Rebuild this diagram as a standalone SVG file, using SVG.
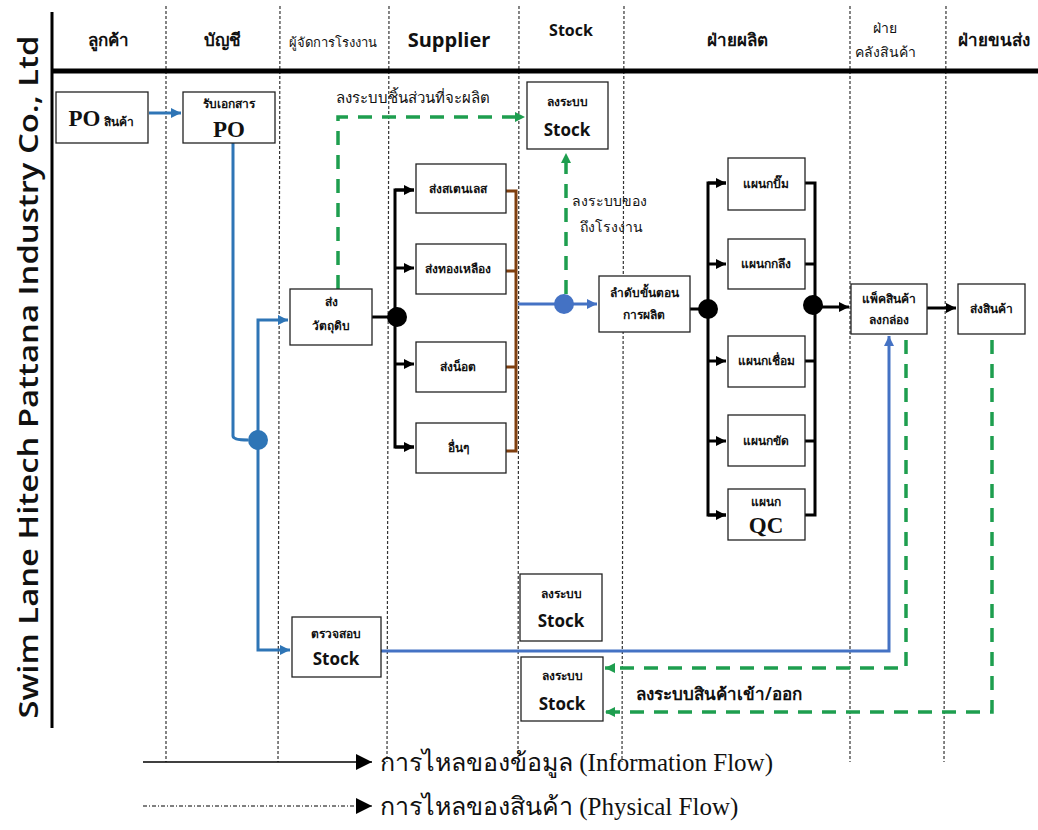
<svg xmlns="http://www.w3.org/2000/svg" width="1038" height="830" viewBox="0 0 1038 830">
<defs>
<marker id="ab" markerUnits="userSpaceOnUse" markerWidth="12" markerHeight="12" refX="10" refY="5" orient="auto"><path d="M0,0 L10,5 L0,10 z" fill="#000"/></marker>
<marker id="abl" markerUnits="userSpaceOnUse" markerWidth="12" markerHeight="12" refX="10" refY="5" orient="auto"><path d="M0,0 L10,5 L0,10 z" fill="#2E75B6"/></marker>
<marker id="abl2" markerUnits="userSpaceOnUse" markerWidth="12" markerHeight="12" refX="10" refY="5" orient="auto"><path d="M0,0 L10,5 L0,10 z" fill="#4472C4"/></marker>
<marker id="ag" markerUnits="userSpaceOnUse" markerWidth="12" markerHeight="12" refX="10" refY="5" orient="auto"><path d="M0,0 L10,5 L0,10 z" fill="#1E9E4F"/></marker>
<marker id="al" markerUnits="userSpaceOnUse" markerWidth="18" markerHeight="18" refX="16" refY="8" orient="auto"><path d="M0,0 L16,8 L0,16 z" fill="#000"/></marker>
</defs>
<style>
.lane{stroke:#333;stroke-width:1.2;stroke-dasharray:3,2;fill:none}
.box{fill:#fff;stroke:#222;stroke-width:1.3}
.th{font-family:"Noto Sans","DejaVu Sans",sans-serif;fill:#111}
.hd{font-size:17px;text-anchor:middle;font-weight:600}
.sm{font-size:12px;text-anchor:middle;font-weight:600}
.stk{font-family:"Open Sans","Liberation Sans",sans-serif;font-weight:700;font-size:17px;text-anchor:middle;fill:#111}
.po{font-family:"Liberation Serif",serif;font-weight:700;font-size:23px;fill:#111}
.blue{stroke:#2E75B6;stroke-width:3;fill:none}
.blue2{stroke:#4472C4;stroke-width:3;fill:none}
.grn{stroke:#1E9E4F;stroke-width:3.5;stroke-dasharray:14,10;fill:none}
.blk{stroke:#000;stroke-width:3;fill:none}
.brn{stroke:#7F3F0F;stroke-width:3;fill:none}
.leg{font-family:"Liberation Serif",serif;font-size:25px;fill:#111}
</style>
<rect width="1038" height="830" fill="#fff"/>

<g id="lanes">
<line class="lane" x1="166" y1="6" x2="166" y2="762"/>
<line class="lane" x1="280" y1="6" x2="278" y2="762"/>
<line class="lane" x1="389" y1="6" x2="387" y2="762"/>
<line class="lane" x1="519" y1="6" x2="518" y2="762"/>
<line class="lane" x1="624" y1="6" x2="622" y2="762"/>
<line class="lane" x1="850" y1="6" x2="850" y2="762"/>
<line class="lane" x1="946" y1="6" x2="944" y2="762"/>
<line x1="52" y1="12" x2="52" y2="728" stroke="#000" stroke-width="3"/>
<line x1="52" y1="71" x2="1038" y2="71" stroke="#000" stroke-width="5"/>
</g>

<g id="title">
<text transform="translate(38,377) rotate(-90)" text-anchor="middle" font-family="Open Sans, Liberation Sans, sans-serif" font-weight="600" font-size="27" textLength="683" lengthAdjust="spacingAndGlyphs" fill="#111">Swim Lane Hitech Pattana Industry Co., Ltd</text>
</g>

<g id="headers">
<text class="th hd" x="108" y="46">ลูกค้า</text>
<text class="th hd" x="222" y="46">บัญชี</text>
<text class="th" x="333" y="47" font-size="13" text-anchor="middle">ผู้จัดการโรงงาน</text>
<text x="449" y="47" font-family="Open Sans, Liberation Sans, sans-serif" font-weight="700" font-size="20" text-anchor="middle" fill="#111">Supplier</text>
<text x="571" y="36" font-family="Open Sans, Liberation Sans, sans-serif" font-weight="700" font-size="16" text-anchor="middle" fill="#111">Stock</text>
<text class="th hd" x="737" y="46">ฝ่ายผลิต</text>
<text class="th" x="885" y="33" font-size="14" text-anchor="middle">ฝ่าย</text>
<text class="th" x="885" y="57" font-size="14" text-anchor="middle">คลังสินค้า</text>
<text class="th hd" x="994" y="46">ฝ่ายขนส่ง</text>
</g>

<g id="connectors">
<line class="blue" x1="149" y1="113" x2="181" y2="113" marker-end="url(#abl)"/>
<path class="blue" d="M233,143 V436 Q233,440 248,440"/>
<path class="blue" d="M258,432 V320 H288" marker-end="url(#abl)"/>
<path class="blue" d="M258,448 V650 H290" marker-end="url(#abl)"/>
<path class="grn" d="M338,289 V117 H525" marker-end="url(#ag)"/>
<line class="blk" x1="372" y1="317" x2="390" y2="317"/>
<path class="blk" d="M414,190 H395 V447 H414"/>
<line class="blk" x1="395" y1="190" x2="414" y2="190" marker-end="url(#ab)"/>
<line class="blk" x1="395" y1="268" x2="414" y2="268" marker-end="url(#ab)"/>
<line class="blk" x1="395" y1="364" x2="414" y2="364" marker-end="url(#ab)"/>
<line class="blk" x1="395" y1="447" x2="414" y2="447" marker-end="url(#ab)"/>
<path class="brn" d="M497,191 H516 V451 H497"/>
<line class="brn" x1="497" y1="271" x2="516" y2="271"/>
<line class="brn" x1="497" y1="367" x2="516" y2="367"/>
<line class="blue2" x1="518" y1="304" x2="556" y2="304"/>
<line class="blue2" x1="572" y1="304" x2="597" y2="304" marker-end="url(#abl2)"/>
<line class="grn" x1="566" y1="294" x2="566" y2="153" marker-end="url(#ag)"/>
<line class="blk" x1="690" y1="309" x2="700" y2="309"/>
<path class="blk" d="M726,183 H708 V515 H726"/>
<line class="blk" x1="708" y1="183" x2="726" y2="183" marker-end="url(#ab)"/>
<line class="blk" x1="708" y1="264" x2="726" y2="264" marker-end="url(#ab)"/>
<line class="blk" x1="708" y1="361" x2="726" y2="361" marker-end="url(#ab)"/>
<line class="blk" x1="708" y1="441" x2="726" y2="441" marker-end="url(#ab)"/>
<line class="blk" x1="708" y1="515" x2="726" y2="515" marker-end="url(#ab)"/>
<path class="blk" d="M805,183 H815 V515 H805"/>
<line class="blk" x1="805" y1="264" x2="815" y2="264"/>
<line class="blk" x1="805" y1="361" x2="815" y2="361"/>
<line class="blk" x1="805" y1="441" x2="815" y2="441"/>
<line class="blk" x1="820" y1="307" x2="849" y2="307" marker-end="url(#ab)"/>
<line class="blk" x1="927" y1="308" x2="956" y2="308" marker-end="url(#ab)"/>
<path class="blue2" d="M381,651 H889 V336" marker-end="url(#abl2)"/>
<path class="grn" d="M906,340 V668 H605" marker-end="url(#ag)"/>
<path class="grn" d="M992,340 V712 H605" marker-end="url(#ag)"/>
<circle cx="258" cy="440" r="10" fill="#2E75B6"/>
<circle cx="397" cy="317" r="10" fill="#000"/>
<circle cx="564" cy="304" r="10" fill="#4472C4"/>
<circle cx="708" cy="309" r="10" fill="#000"/>
<circle cx="813" cy="305" r="10" fill="#000"/>
<text class="th" x="336" y="103" font-size="15">ลงระบบชิ้นส่วนที่จะผลิต</text>
<text class="th" x="572" y="206" font-size="14">ลงระบบของ</text>
<text class="th" x="580" y="232" font-size="14">ถึงโรงงาน</text>
<text class="th" x="636" y="700" font-size="17" font-weight="600">ลงระบบสินค้าเข้า/ออก</text>
</g>

<g id="n-po"><rect class="box" x="56" y="92" width="92" height="51"/><text x="101" y="126" text-anchor="middle"><tspan class="po">PO</tspan><tspan class="th" font-size="12" font-weight="600"> สินค้า</tspan></text></g>
<g id="n-receive"><rect class="box" x="183" y="92" width="92" height="51"/><text class="th sm" x="229" y="108">รับเอกสาร</text><text class="po" x="229" y="137" text-anchor="middle">PO</text></g>
<g id="n-stock-top"><rect class="box" x="527" y="82" width="81" height="67"/><text class="th sm" x="567" y="106">ลงระบบ</text><text class="stk" x="567" y="136">Stock</text></g>
<g id="n-raw"><rect class="box" x="290" y="289" width="82" height="56"/><text class="th sm" x="331" y="306">ส่ง</text><text class="th sm" x="331" y="330">วัตถุดิบ</text></g>
<g id="n-s1"><rect class="box" x="416" y="164" width="90" height="49"/><text class="th sm" x="458" y="193">ส่งสเตนเลส</text></g>
<g id="n-s2"><rect class="box" x="416" y="244" width="90" height="50"/><text class="th sm" x="458" y="273">ส่งทองเหลือง</text></g>
<g id="n-s3"><rect class="box" x="416" y="342" width="90" height="50"/><text class="th sm" x="458" y="371">ส่งน็อต</text></g>
<g id="n-s4"><rect class="box" x="416" y="423" width="90" height="50"/><text class="th sm" x="458" y="452">อื่นๆ</text></g>
<g id="n-seq"><rect class="box" x="599" y="276" width="91" height="56"/><text class="th sm" x="644" y="297">ลำดับขั้นตอน</text><text class="th sm" x="644" y="319">การผลิต</text></g>
<g id="n-d1"><rect class="box" x="728" y="158" width="77" height="52"/><text class="th sm" x="766" y="188">แผนกปั๊ม</text></g>
<g id="n-d2"><rect class="box" x="728" y="239" width="77" height="50"/><text class="th sm" x="766" y="268">แผนกกลึง</text></g>
<g id="n-d3"><rect class="box" x="728" y="336" width="77" height="51"/><text class="th sm" x="766" y="365">แผนกเชื่อม</text></g>
<g id="n-d4"><rect class="box" x="728" y="415" width="77" height="51"/><text class="th sm" x="766" y="445">แผนกขัด</text></g>
<g id="n-qc"><rect class="box" x="728" y="489" width="77" height="51"/><text class="th sm" x="766" y="506">แผนก</text><text class="po" x="766" y="533" font-size="21" text-anchor="middle">QC</text></g>
<g id="n-pack"><rect class="box" x="851" y="284" width="76" height="50"/><text class="th sm" x="889" y="303">แพ็คสินค้า</text><text class="th sm" x="889" y="324">ลงกล่อง</text></g>
<g id="n-ship"><rect class="box" x="958" y="284" width="67" height="50"/><text class="th sm" x="991" y="313">ส่งสินค้า</text></g>
<g id="n-check"><rect class="box" x="292" y="617" width="89" height="60"/><text class="th sm" x="336" y="638">ตรวจสอบ</text><text class="stk" x="336" y="665">Stock</text></g>
<g id="n-stock-mid"><rect class="box" x="520" y="574" width="82" height="67"/><text class="th sm" x="561" y="598">ลงระบบ</text><text class="stk" x="561" y="627">Stock</text></g>
<g id="n-stock-bot"><rect class="box" x="521" y="657" width="82" height="64"/><text class="th sm" x="562" y="680">ลงระบบ</text><text class="stk" x="562" y="710">Stock</text></g>

<g id="legend">
<line x1="143" y1="762" x2="372" y2="762" stroke="#000" stroke-width="1.5" marker-end="url(#al)"/>
<text class="leg" x="380" y="771">การไหลของข้อมูล (Information Flow)</text>
<line x1="143" y1="806" x2="372" y2="806" stroke="#000" stroke-width="1" stroke-dasharray="4,2,1,2" marker-end="url(#al)"/>
<text class="leg" x="380" y="815">การไหลของสินค้า (Physical Flow)</text>
</g>
</svg>
